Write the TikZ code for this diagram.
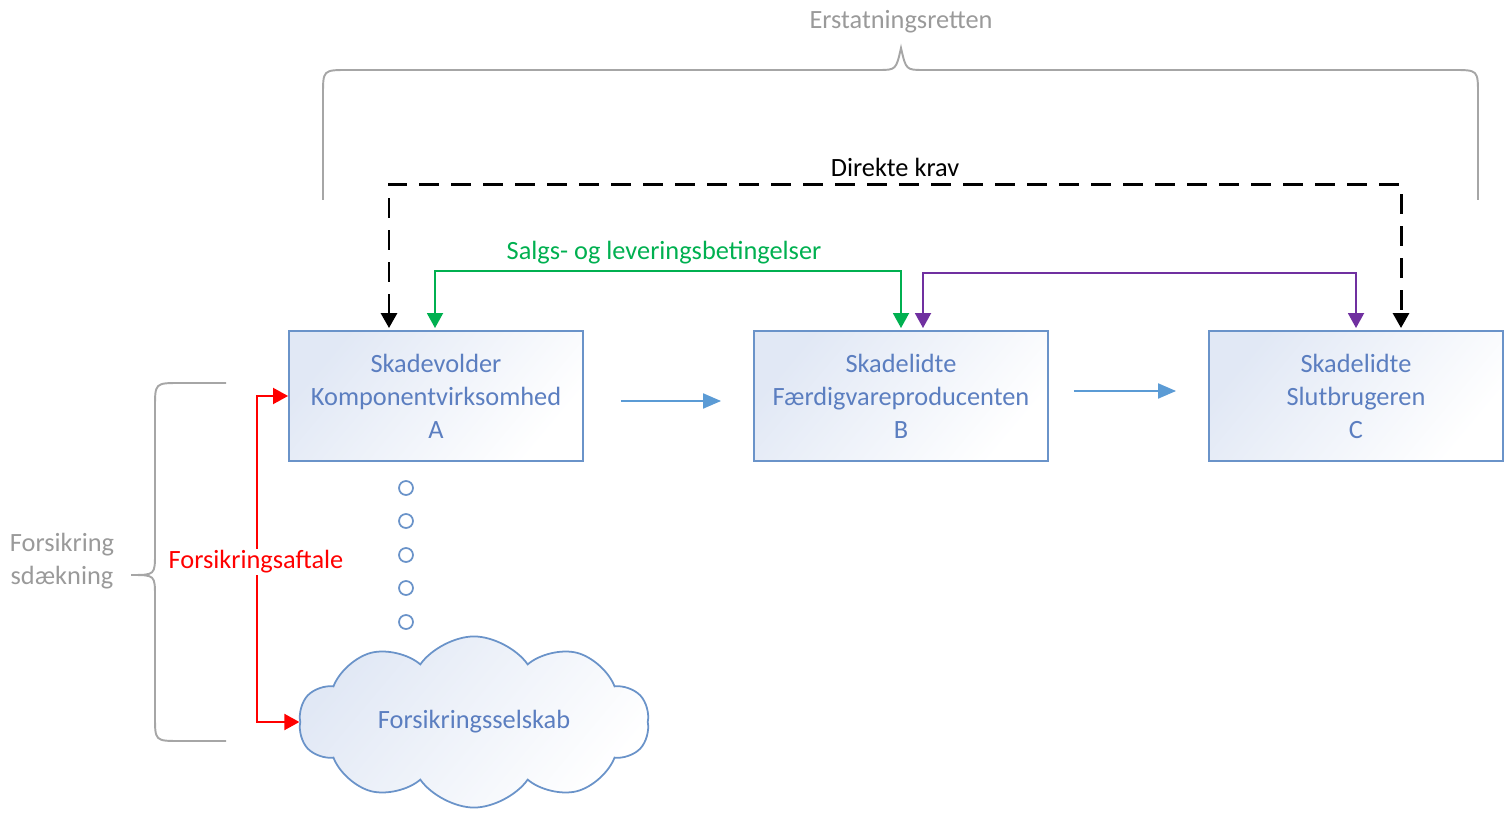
\documentclass[tikz,border=0pt]{standalone}
\usepackage{fontspec}
\setmainfont{Carlito}
\usetikzlibrary{arrows.meta,calc,shapes.symbols}
\definecolor{boxline}{HTML}{6A93C9}
\definecolor{boxtext}{HTML}{5B7EC0}
\definecolor{boxfill}{HTML}{E1E8F5}
\definecolor{flow}{HTML}{5B9BD5}
\definecolor{salg}{HTML}{00B050}
\definecolor{lilla}{HTML}{7030A0}
\definecolor{bracegray}{HTML}{A6A6A6}
\definecolor{labelgray}{HTML}{9A9A9A}
\tikzset{
  party/.style={draw=boxline, line width=1.1pt, shading=axis, top color=boxfill, bottom color=white, shading angle=50,
    minimum width=5.88cm, minimum height=2.6cm, align=center, text=boxtext, font=\fontsize{15}{18.8}\selectfont},
  bothtips/.style={{Triangle[width=0.32cm,length=0.3cm]}-{Triangle[width=0.32cm,length=0.3cm]}},
  flowarrow/.style={flow, line width=1.1pt, -{Triangle[width=0.3cm,length=0.36cm]}},
  krav/.style={bothtips, line width=1.7pt, dash pattern=on 0.4cm off 0.24cm},
  aftale/.style={bothtips, line width=1.1pt},
  brace/.style={bracegray, line width=1.1pt},
  lbl/.style={font=\fontsize{15}{18.8}\selectfont},
  dotc/.style={circle, draw=boxline, line width=1pt, minimum size=0.28cm, inner sep=0pt}
}
\begin{document}
\begin{tikzpicture}[x=0.02cm, y=-0.02cm]
  \useasboundingbox (0,0) rectangle (1507,813);
  % parties
  \node[party] (A) at (436,396) {Skadevolder\\Komponentvirksomhed\\A};
  \node[party] (B) at (901,396) {Skadelidte\\Færdigvareproducenten\\B};
  \node[party] (C) at (1356,396) {Skadelidte\\Slutbrugeren\\C};
  \node[cloud, cloud puffs=10, cloud puff arc=110, aspect=2.2, draw=boxline, line width=1pt, shading=axis, top color=boxfill,
    bottom color=white, shading angle=50, minimum width=7.0cm, minimum height=3.3cm, text=boxtext,
    font=\fontsize{15}{18.8}\selectfont] (selskab) at (474,722) {Forsikringsselskab};
  \foreach \y in {488,521,555,588,622}
    \node[dotc] (d\y) at (406,\y) {};
  % chain
  \draw[flowarrow] ($(A.east)+(37,5)$) -- ($(B.west)+(-32,5)$);
  \draw[flowarrow] ($(B.east)+(25,-5)$) -- ($(C.west)+(-32,-5)$);
  % agreements
  \draw[krav] ($(A.north)+(-47,-2)$) -- ++(0,-144) -| ($(C.north)+(45,-2)$);
  \node[lbl] (kravtxt) at (895,167) {Direkte krav};
  \draw[salg, aftale] ($(A.north)+(-1,-2)$) -- ++(0,-57) -| ($(B.north)+(0,-2)$);
  \node[lbl, text=salg] (salgtxt) at (664,253) {Salgs- og leveringsbetingelser};
  \draw[lilla, aftale] ($(B.north)+(22,-2)$) -- ++(0,-55) -| ($(C.north)+(0,-2)$);
  \draw[red, aftale] (A.west) -- ++(-31,0) |- (selskab.west);
  \node[lbl, text=red, fill=white, inner sep=1pt] (forsaft) at (256,562) {Forsikringsaftale};
  % braces
  \draw[brace] (323,200) -- (323,95) .. controls (323,70) .. (348,70) -- (878,70) .. controls (896,70) .. (901,48)
    .. controls (906,70) .. (924,70) -- (1453,70) .. controls (1478,70) .. (1478,95) -- (1478,200);
  \node[lbl, text=labelgray] (erstat) at (901,22) {Erstatningsretten};
  \draw[brace] (226,383) -- (180,383) .. controls (155,383) .. (155,408) -- (155,553) .. controls (155,575) .. (131,575)
    .. controls (155,575) .. (155,597) -- (155,716) .. controls (155,741) .. (180,741) -- (226,741);
  \node[lbl, text=labelgray, align=center] (daekning) at (62,561) {Forsikring\\sdækning};
\end{tikzpicture}
\end{document}
